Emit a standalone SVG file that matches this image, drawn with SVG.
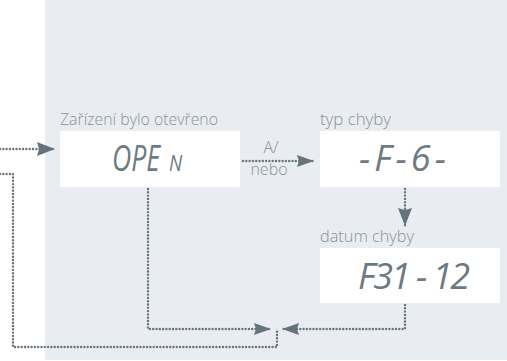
<svg xmlns="http://www.w3.org/2000/svg" width="507" height="361" viewBox="0 0 507 361">
<style>
.lbl{font-family:"Open Sans","Liberation Sans",sans-serif;font-weight:300;font-size:17px;fill:#8a9197}
.lcd{font-family:"Open Sans","Liberation Sans",sans-serif;font-style:italic;font-weight:400;font-size:36px;fill:#6e7a82}
.box{fill:#ffffff}
.dot{fill:none;stroke:#66737c;stroke-width:2.4;stroke-linecap:round;stroke-dasharray:0 3.3}
</style>
<defs>
<marker id="ah" markerUnits="userSpaceOnUse" markerWidth="19" markerHeight="15" refX="18" refY="7" orient="auto">
<path d="M0,0 L18,7 L0,14 L2,7 z" fill="#66737c"/>
</marker>
<marker id="ahs" markerUnits="userSpaceOnUse" markerWidth="18" markerHeight="13" refX="17" refY="6" orient="auto">
<path d="M0,0 L17,6 L0,12 L2,6 z" fill="#66737c"/>
</marker>
</defs>
<rect x="45" y="0" width="462" height="360" fill="#e9edf1"/>
<g id="connectors">
<path class="dot" d="M0,149 H55" marker-end="url(#ah)"/>
<path class="dot" d="M243,161 H314" marker-end="url(#ahs)"/>
<path class="dot" d="M405,189 V226" marker-end="url(#ah)"/>
<path class="dot" d="M148,189 V329 H271" marker-end="url(#ahs)"/>
<path class="dot" d="M405,305 V329 H282" marker-end="url(#ahs)"/>
<path class="dot" d="M0,174 H13 V347 H277 V330"/>
<text class="lbl" x="271" y="153" text-anchor="middle" style="font-size:16px">A/</text>
<text class="lbl" x="269" y="175" text-anchor="middle" style="font-size:16px">nebo</text>
</g>
<g id="node-open">
<text class="lbl" x="60" y="125" textLength="158" lengthAdjust="spacingAndGlyphs">Zařízení bylo otevřeno</text>
<rect class="box" x="60" y="131" width="180" height="56"/>
<text class="lcd" transform="translate(112,171) scale(0.74,1)" x="0" y="0">OPE</text>
<text class="lcd" transform="translate(169,171) scale(0.85,1)" x="0" y="0" style="font-size:22px">N</text>
</g>
<g id="node-typ">
<text class="lbl" x="320" y="125" textLength="71" lengthAdjust="spacingAndGlyphs">typ chyby</text>
<rect class="box" x="320" y="131" width="180" height="56"/>
<text class="lcd" x="359" y="171" textLength="87" lengthAdjust="spacing">-F-6-</text>
</g>
<g id="node-datum">
<text class="lbl" x="320" y="242" textLength="94" lengthAdjust="spacingAndGlyphs">datum chyby</text>
<rect class="box" x="320" y="248" width="180" height="55"/>
<text class="lcd" x="358" y="289" textLength="112" lengthAdjust="spacing">F31 - 12</text>
</g>
</svg>
